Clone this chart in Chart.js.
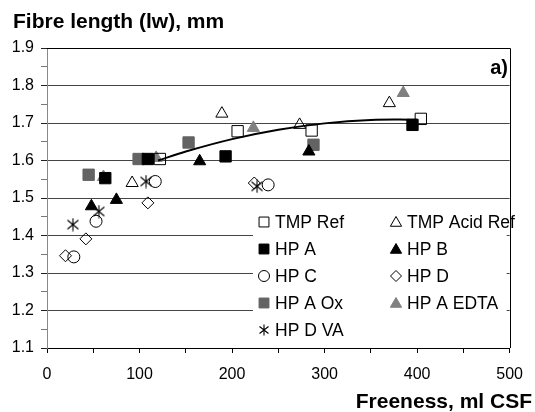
<!DOCTYPE html>
<html><head><meta charset="utf-8">
<script src="https://cdn.jsdelivr.net/npm/chart.js@4/dist/chart.umd.min.js"></script>
<style>html,body{margin:0;padding:0;background:#fff}#wrap{position:relative;width:535px;height:412px}</style>
</head><body><div id="wrap"><canvas id="c" width="535" height="412"></canvas></div>
<script>
// ---- data ----
const tmpRefX   = [122, 206, 286, 404];
const tmpRefY   = [1.604, 1.678, 1.680, 1.711];
const tmpAcidX  = [92, 189, 273, 370];
const tmpAcidY  = [1.540, 1.725, 1.695, 1.753];
const hpAX      = [63, 109, 193, 395];
const hpAY      = [1.553, 1.604, 1.611, 1.695];
const hpBX      = [48, 75, 165, 283];
const hpBY      = [1.478, 1.495, 1.598, 1.624];
const hpCX      = [29, 53, 117, 239];
const hpCY      = [1.343, 1.438, 1.544, 1.535];
const hpDX      = [20, 42, 109, 224];
const hpDY      = [1.346, 1.391, 1.487, 1.540];
const hpAOxX    = [45, 99, 153, 288];
const hpAOxY    = [1.562, 1.604, 1.648, 1.642];
const hpAEdtaX  = [61, 118, 223, 385];
const hpAEdtaY  = [1.556, 1.607, 1.687, 1.780];
const hpDVaX    = [28, 56, 107, 227];
const hpDVaY    = [1.429, 1.464, 1.544, 1.531];
const trendX    = [120, 150, 200, 250, 300, 350, 400];
const trendY    = [1.600, 1.624, 1.657, 1.682, 1.699, 1.708, 1.709];
const seriesNames = ['TMP Ref','TMP Acid Ref','HP A','HP B','HP C','HP D','HP A Ox','HP A EDTA','HP D VA'];
const xTickLabels = [0, 100, 200, 300, 400, 500];
const yTickLabels = [1.1, 1.2, 1.3, 1.4, 1.5, 1.6, 1.7, 1.8, 1.9];
const yTitle = 'Fibre length (lw), mm';
const xTitle = 'Freeness, ml CSF';
const panelLabel = 'a)';

const FONT = "'Liberation Sans', Arial, Helvetica, sans-serif";
const pts = (xa, ya) => xa.map((x, i) => ({x, y: ya[i]}));

// asterisk marker
function makeAsterisk(size){
  const c = document.createElement('canvas');
  c.width = size; c.height = size;
  const g = c.getContext('2d');
  g.strokeStyle = '#000'; g.lineWidth = 1.1;
  const m = size/2;
  g.beginPath();
  g.moveTo(m, 0.5); g.lineTo(m, size-0.5);
  g.moveTo(1.5, 2.5); g.lineTo(size-1.5, size-2.5);
  g.moveTo(size-1.5, 2.5); g.lineTo(1.5, size-2.5);
  g.stroke();
  return c;
}
const aster = makeAsterisk(14);
const asterSmall = makeAsterisk(12);

const T = 'rgba(0,0,0,0)';
const styles = [
  {pointStyle:'rect', radius:8, bg:T, bd:'#000'},
  {pointStyle:'triangle', radius:7, bg:T, bd:'#000'},
  {pointStyle:'rect', radius:8, bg:'#000', bd:'#000'},
  {pointStyle:'triangle', radius:7, bg:'#000', bd:'#000'},
  {pointStyle:'circle', radius:6, bg:T, bd:'#000'},
  {pointStyle:'rectRot', radius:6, bg:T, bd:'#000'},
  {pointStyle:'rect', radius:8, bg:'#636363', bd:'#636363'},
  {pointStyle:'triangle', radius:7, bg:'#808080', bd:'#808080'},
  {pointStyle:aster, radius:7, bg:T, bd:'#000'}
];
const seriesData = [
  pts(tmpRefX, tmpRefY), pts(tmpAcidX, tmpAcidY), pts(hpAX, hpAY), pts(hpBX, hpBY),
  pts(hpCX, hpCY), pts(hpDX, hpDY), pts(hpAOxX, hpAOxY), pts(hpAEdtaX, hpAEdtaY), pts(hpDVaX, hpDVaY)
];

const datasets = [{
  type:'line', label:'trend', data: pts(trendX, trendY), showLine:true,
  borderColor:'#000', borderWidth:2, pointRadius:0, tension:0.4, fill:false, order:0
}];
seriesNames.forEach((n, i) => {
  const s = styles[i];
  datasets.push({
    label:n, data:seriesData[i], showLine:false, order:1,
    pointStyle:s.pointStyle, pointRadius:s.radius, pointHoverRadius:s.radius,
    pointBackgroundColor:s.bg, pointBorderColor:s.bd, pointBorderWidth:1
  });
});

function drawMarker(ctx, s, x, y, r){
  ctx.save();
  ctx.fillStyle = s.bg; ctx.strokeStyle = s.bd; ctx.lineWidth = 1;
  ctx.beginPath();
  if (s.pointStyle === 'rect'){
    const h = r*Math.SQRT1_2; ctx.rect(x-h, y-h, 2*h, 2*h);
  } else if (s.pointStyle === 'triangle'){
    ctx.moveTo(x, y - r);
    ctx.lineTo(x + r*Math.cos(Math.PI/6), y + r*0.5);
    ctx.lineTo(x - r*Math.cos(Math.PI/6), y + r*0.5);
    ctx.closePath();
  } else if (s.pointStyle === 'circle'){
    ctx.arc(x, y, r, 0, Math.PI*2);
  } else if (s.pointStyle === 'rectRot'){
    ctx.moveTo(x, y-r); ctx.lineTo(x+r, y); ctx.lineTo(x, y+r); ctx.lineTo(x-r, y); ctx.closePath();
  } else {
    ctx.drawImage(asterSmall, x - asterSmall.width/2, y - asterSmall.height/2);
    ctx.restore(); return;
  }
  ctx.fill(); ctx.stroke();
  ctx.restore();
}

const overlay = {
  id:'overlay',
  afterDatasetsDraw(chart){
    const {ctx, chartArea:a} = chart;
    ctx.save();
    // legend box
    ctx.fillStyle = '#fff';
    ctx.fillRect(253, 200, a.right - 3 - 253, a.bottom - 2 - 200);
    ctx.font = '17.5px ' + FONT;
    ctx.fillStyle = '#000';
    ctx.textBaseline = 'middle';
    ctx.textAlign = 'left';
    seriesNames.forEach((n, i) => {
      const col = i % 2, row = Math.floor(i / 2);
      const mx = col ? 396 : 264;
      const my = 222 + row * 27;
      const s = styles[i];
      drawMarker(ctx, s, mx, my + (s.pointStyle === 'triangle' ? 1 : 0), s.pointStyle === 'rect' ? 7 : (s.pointStyle === 'triangle' ? 6.5 : 5.5));
      ctx.fillStyle = '#000';
      ctx.fillText(n, mx + 11, my + 1);
    });
    // frame top & right
    ctx.strokeStyle = '#000'; ctx.lineWidth = 1;
    ctx.beginPath();
    ctx.moveTo(a.left, Math.round(a.top) + 0.5);
    ctx.lineTo(Math.round(a.right) + 0.5, Math.round(a.top) + 0.5);
    ctx.lineTo(Math.round(a.right) + 0.5, Math.round(a.bottom));
    ctx.stroke();
    // titles
    ctx.font = 'bold 21px ' + FONT;
    ctx.textBaseline = 'alphabetic';
    ctx.textAlign = 'left';
    ctx.fillText(yTitle, 13, 28);
    ctx.textAlign = 'right';
    ctx.fillText(xTitle, 532, 408);
    ctx.font = 'bold 20px ' + FONT;
    ctx.fillText(panelLabel, 508, 74);
    ctx.restore();
  }
};

const isMajorY = v => Math.abs(Math.round(v*10) - v*10) < 1e-6;

new Chart(document.getElementById('c'), {
  type:'scatter',
  data:{datasets},
  plugins:[overlay],
  options:{
    responsive:false, devicePixelRatio:1, animation:false,
    layout:{padding:{left:0, right:16, top:48, bottom:0}},
    plugins:{legend:{display:false}, tooltip:{enabled:false}},
    scales:{
      x:{
        type:'linear', min:0, max:500,
        afterBuildTicks: s => { const t=[]; for (let v=0; v<=500; v+=50) t.push({value:v}); s.ticks = t; },
        ticks:{autoSkip:false, maxRotation:0, color:'#000', font:{family:FONT, size:16}, padding:12,
          callback: v => xTickLabels.includes(v) ? String(v) : ''},
        grid:{drawOnChartArea:false, drawTicks:true, tickLength:5, tickColor:'#000'},
        border:{color:'#000', width:1},
        afterFit: s => { s.height = 64; }
      },
      y:{
        type:'linear', min:1.1, max:1.9,
        afterBuildTicks: s => { const t=[]; for (let k=22; k<=38; k++) t.push({value:k/20}); s.ticks = t; },
        ticks:{autoSkip:false, color:'#000', font:{family:FONT, size:16}, padding:7,
          callback: v => { const m = yTickLabels.find(l => Math.abs(l - v) < 1e-6); return m !== undefined ? m.toFixed(1) : ''; }},
        grid:{drawTicks:true, tickLength:6,
          color: c => (c.tick && isMajorY(c.tick.value)) ? '#444' : 'rgba(0,0,0,0)',
          tickColor: c => (c.tick && isMajorY(c.tick.value)) ? '#222' : '#777'},
        border:{color:'#888', width:1},
        afterFit: s => { s.width = 47; }
      }
    }
  }
});
</script></body></html>
